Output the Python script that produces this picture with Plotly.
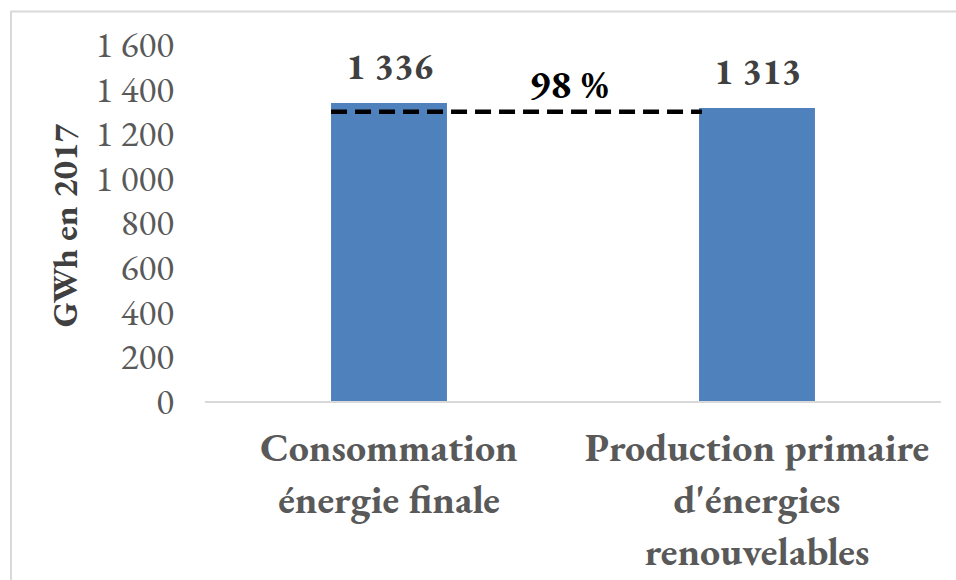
import plotly.graph_objects as go

# Energy balance 2017 (GWh)
categories = ["Consommation<br>énergie finale",
              "Production primaire<br>d'énergies<br>renouvelables"]
values = [1336, 1313]
value_labels = ["1 336", "1 313"]
y_ticks = [0, 200, 400, 600, 800, 1000, 1200, 1400, 1600]
y_tick_labels = ["0", "200", "400", "600", "800", "1 000", "1 200", "1 400", "1 600"]
coverage_level = 1296  # height of the dashed comparison line
coverage_pct = round(100 * values[1] / values[0])

SERIF = "Garamond, 'EB Garamond', 'Liberation Serif', 'Times New Roman', serif"
BAR_COLOR = "#4F81BD"
bar_width = 0.315

PLOT_L, PLOT_R, PLOT_T, PLOT_B = 205, 941, 43.5, 401
PLOT_H = PLOT_B - PLOT_T
PLOT_W = PLOT_R - PLOT_L

fig = go.Figure()
fig.add_trace(go.Bar(
    x=[0, 1], y=values, width=bar_width,
    marker=dict(color=BAR_COLOR, line=dict(width=0)),
    hoverinfo="skip", showlegend=False,
))

# dashed line from the left edge of the first bar to the left edge of the second
fig.add_trace(go.Scatter(
    x=[0 - bar_width / 2, 1 - bar_width / 2 + 0.008],
    y=[coverage_level, coverage_level],
    mode="lines",
    line=dict(color="black", width=4.5, dash="16px,8px"),
    hoverinfo="skip", showlegend=False,
))

# value labels above bars
for i, (v, lab) in enumerate(zip(values, value_labels)):
    fig.add_annotation(x=i, y=v, text=f"<b>{lab}</b>", showarrow=False,
                       yanchor="middle", yshift=37,
                       font=dict(family=SERIF, size=37, color="#404040"))

# coverage ratio label
fig.add_annotation(x=0.49, y=coverage_level, text=f"<b>{coverage_pct} %</b>",
                   showarrow=False, yanchor="middle", yshift=28,
                   font=dict(family=SERIF, size=40, color="black"))

# y axis title
fig.add_annotation(xref="paper", yref="paper", x=(64 - PLOT_L) / PLOT_W, y=0.492,
                   text="<b>GWh en 2017</b>", textangle=-90, showarrow=False,
                   xanchor="center", yanchor="middle",
                   font=dict(family=SERIF, size=35, color="#404040"))

# chart frame
fig.add_shape(type="rect", xref="paper", yref="paper",
              x0=(11 - PLOT_L) / PLOT_W, x1=(965 - PLOT_L) / PLOT_W,
              y0=(PLOT_B - 600) / PLOT_H, y1=(PLOT_B - 11) / PLOT_H,
              line=dict(color="#D9D9D9", width=2), layer="below")

fig.update_layout(
    template="none",
    width=956, height=580,
    margin=dict(l=PLOT_L, r=956 - PLOT_R, t=PLOT_T, b=580 - PLOT_B, pad=0),
    paper_bgcolor="white", plot_bgcolor="white",
    font=dict(family=SERIF, color="#595959"),
    showlegend=False,
    xaxis=dict(
        range=[-0.5, 1.5], tickmode="array", tickvals=[0, 1],
        ticktext=[f"<b>{c}</b>" for c in categories],
        tickfont=dict(family=SERIF, size=40, color="#595959"),
        showline=True, linecolor="#D9D9D9", linewidth=1.5,
        showgrid=False, zeroline=False, ticks="", ticklabelstandoff=10,
        automargin=False, fixedrange=True,
    ),
    yaxis=dict(
        range=[0, 1600], tickmode="array", tickvals=y_ticks, ticktext=y_tick_labels,
        tickfont=dict(family=SERIF, size=37, color="#595959"),
        showline=False, showgrid=False, zeroline=False, ticks="",
        ticklabelstandoff=30, automargin=False, fixedrange=True,
    ),
)

fig.write_html("out.html")
